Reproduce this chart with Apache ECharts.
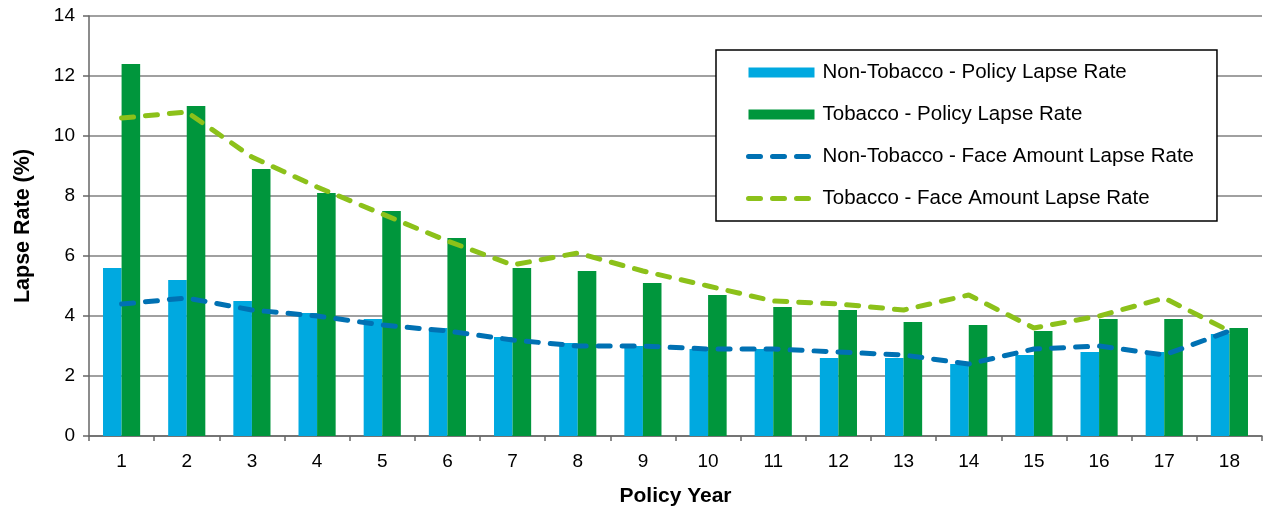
<!DOCTYPE html>
<html>
<head>
<meta charset="utf-8">
<script src="https://cdn.jsdelivr.net/npm/echarts@6/dist/echarts.min.js"></script>
<style>
  html, body { margin: 0; padding: 0; background: #fff; }
  #chart { width: 1267px; height: 512px; }
</style>
</head>
<body>
<div id="chart"></div>
<script>
const categories = ['1','2','3','4','5','6','7','8','9','10','11','12','13','14','15','16','17','18'];
const nonTobaccoPolicy = [5.6, 5.2, 4.5, 4.1, 3.9, 3.6, 3.3, 3.1, 3.0, 2.9, 2.9, 2.6, 2.6, 2.4, 2.7, 2.8, 2.8, 3.4];
const tobaccoPolicy = [12.4, 11.0, 8.9, 8.1, 7.5, 6.6, 5.6, 5.5, 5.1, 4.7, 4.3, 4.2, 3.8, 3.7, 3.5, 3.9, 3.9, 3.6];
const nonTobaccoFace = [4.4, 4.6, 4.2, 4.0, 3.7, 3.5, 3.2, 3.0, 3.0, 2.9, 2.9, 2.8, 2.7, 2.4, 2.9, 3.0, 2.7, 3.5];
const tobaccoFace = [10.6, 10.8, 9.3, 8.3, 7.4, 6.5, 5.7, 6.1, 5.5, 5.0, 4.5, 4.4, 4.2, 4.7, 3.6, 4.0, 4.6, 3.5];
const yTicks = { min: 0, max: 14, interval: 2 };
const seriesNames = [
  'Non-Tobacco - Policy Lapse Rate',
  'Tobacco - Policy Lapse Rate',
  'Non-Tobacco - Face Amount Lapse Rate',
  'Tobacco - Face Amount Lapse Rate'
];

const FONT = '"Liberation Sans", Arial, sans-serif';
const BLUE_BAR = '#00A9E0', GREEN_BAR = '#00963C', BLUE_LINE = '#0071B3', GREEN_LINE = '#8CC11A';
const chart = echarts.init(document.getElementById('chart'), null, { renderer: 'canvas' });
chart.setOption({
  animation: false,
  backgroundColor: '#ffffff',
  textStyle: { fontFamily: FONT },
  grid: { left: 89, right: 5, top: 16, bottom: 75, containLabel: false },
  legend: {
    orient: 'vertical',
    left: 716,
    top: 50,
    padding: [12, 23, 12, 30],
    itemGap: 21,
    itemWidth: 66,
    itemHeight: 10,
    borderColor: '#000',
    borderWidth: 1.5,
    borderRadius: 0,
    backgroundColor: '#fff',
    textStyle: { fontSize: 20.5, color: '#000', fontFamily: FONT, padding: [0, 0, 0, 3] },
    data: [
      { name: seriesNames[0], icon: 'rect' },
      { name: seriesNames[1], icon: 'rect' },
      { name: seriesNames[2], itemStyle: { opacity: 0 }, lineStyle: { width: 5, type: [12, 12], cap: 'round', color: BLUE_LINE } },
      { name: seriesNames[3], itemStyle: { opacity: 0 }, lineStyle: { width: 5, type: [12, 12], cap: 'round', color: GREEN_LINE } }
    ]
  },
  xAxis: {
    type: 'category',
    data: categories,
    boundaryGap: true,
    name: 'Policy Year',
    nameLocation: 'middle',
    nameGap: 50,
    nameTextStyle: { fontSize: 21, fontWeight: 'bold', color: '#000', fontFamily: FONT },
    axisLine: { lineStyle: { color: '#666', width: 1.5 } },
    axisTick: { show: true, length: 5, lineStyle: { color: '#666', width: 1.5 } },
    axisLabel: { fontSize: 19, color: '#000', margin: 16, fontFamily: FONT },
    splitLine: { show: false }
  },
  yAxis: {
    type: 'value',
    min: yTicks.min,
    max: yTicks.max,
    interval: yTicks.interval,
    name: 'Lapse Rate (%)',
    nameLocation: 'middle',
    nameGap: 55,
    nameTextStyle: { fontSize: 21.5, fontWeight: 'bold', color: '#000', fontFamily: FONT },
    axisLine: { show: true, lineStyle: { color: '#666', width: 1.5 } },
    axisTick: { show: true, length: 6, lineStyle: { color: '#666', width: 1.5 } },
    axisLabel: { fontSize: 19, color: '#000', margin: 14, fontFamily: FONT },
    splitLine: { show: true, lineStyle: { color: '#808080', width: 1.5 } }
  },
  series: [
    {
      name: seriesNames[0], type: 'bar', data: nonTobaccoPolicy,
      barGap: '0%', barCategoryGap: '43%',
      itemStyle: { color: BLUE_BAR }
    },
    {
      name: seriesNames[1], type: 'bar', data: tobaccoPolicy,
      barGap: '0%', barCategoryGap: '43%',
      itemStyle: { color: GREEN_BAR }
    },
    {
      name: seriesNames[2], type: 'line', data: nonTobaccoFace,
      symbol: 'none', smooth: false,
      itemStyle: { color: BLUE_LINE },
      lineStyle: { color: BLUE_LINE, width: 5, type: [12, 12], cap: 'round' }
    },
    {
      name: seriesNames[3], type: 'line', data: tobaccoFace,
      symbol: 'none', smooth: false,
      itemStyle: { color: GREEN_LINE },
      lineStyle: { color: GREEN_LINE, width: 5, type: [12, 12], cap: 'round' }
    }
  ]
});
</script>
</body>
</html>
